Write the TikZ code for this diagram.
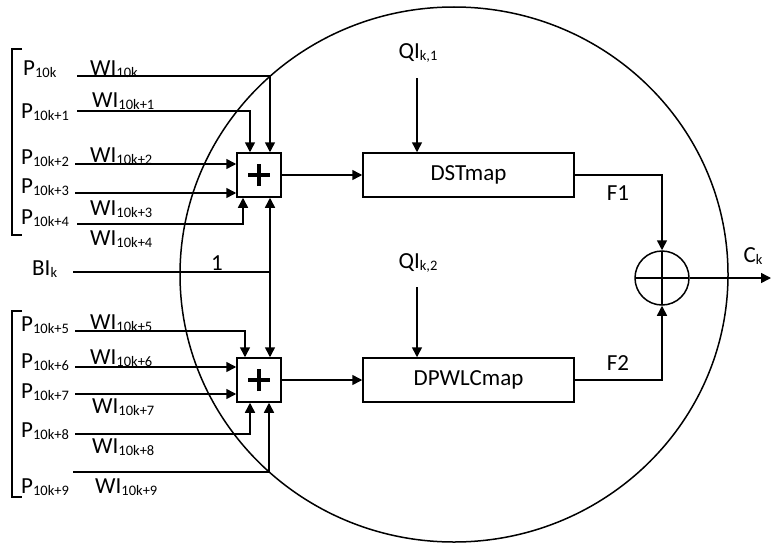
\documentclass[tikz,border=0pt]{standalone}
\usepackage{fontspec}
\setmainfont{Carlito}
\usetikzlibrary{arrows.meta,shapes.geometric}
\newcommand\lsub[1]{\raisebox{-1.5pt}{\fontsize{14.5}{14.5}\selectfont #1}}
\tikzset{
  conn/.style={line width=1.5pt},
  arr/.style={conn,-{Triangle[length=10pt,width=10pt]}},
  lbl/.style={inner sep=0pt,font=\fontsize{23}{25}\selectfont},
  sumbox/.style={draw,line width=1.5pt,minimum size=44pt,inner sep=0pt,
    path picture={
      \draw[line width=3.2pt] ([xshift=-11pt]path picture bounding box.center) -- ([xshift=11pt]path picture bounding box.center);
      \draw[line width=3.2pt] ([yshift=-11pt]path picture bounding box.center) -- ([yshift=11pt]path picture bounding box.center);}},
  mapbox/.style={draw,line width=1.5pt,minimum width=211pt,minimum height=44pt,inner sep=0pt,font=\fontsize{23}{25}\selectfont},
  oplusnode/.style={draw,circle,line width=1.5pt,minimum size=54pt,inner sep=0pt,
    path picture={
      \draw[line width=1.5pt] (path picture bounding box.west) -- (path picture bounding box.east);
      \draw[line width=1.5pt] (path picture bounding box.north) -- (path picture bounding box.south);}}
}
\begin{document}
\begin{tikzpicture}[x=1pt,y=-1pt]
\useasboundingbox (0,0) rectangle (778,551);
% big ellipse
\node[draw,ellipse,line width=1.5pt,minimum width=548pt,minimum height=535pt,inner sep=0pt] (big) at (454,274.5) {};
% brackets
\draw[conn] (22,49) -- (12,49) -- (12,235) -- (22,235);
\draw[conn] (22,311) -- (12,311) -- (12,497) -- (22,497);
% blocks
\node[sumbox] (sum1) at (259,175) {};
\node[sumbox] (sum2) at (259,380) {};
\node[mapbox] (dst) at (468.5,175) {DSTmap};
\node[mapbox] (dpwlc) at (468.5,380) {DPWLCmap};
\node[oplusnode] (op) at (662,278) {};
% input labels
\node[lbl,anchor=west] (tp0) at (23,69) {P\lsub{10k}};
\node[lbl,anchor=west] (tp1) at (21,112) {P\lsub{10k+1}};
\node[lbl,anchor=west] (tp2) at (21,158) {P\lsub{10k+2}};
\node[lbl,anchor=west] (tp3) at (21,187) {P\lsub{10k+3}};
\node[lbl,anchor=west] (tp4) at (21,218) {P\lsub{10k+4}};
\node[lbl,anchor=west] (tbi) at (32,269) {BI\lsub{k}};
\node[lbl,anchor=west] (tp5) at (21,325) {P\lsub{10k+5}};
\node[lbl,anchor=west] (tp6) at (21,362) {P\lsub{10k+6}};
\node[lbl,anchor=west] (tp7) at (21,392) {P\lsub{10k+7}};
\node[lbl,anchor=west] (tp8) at (21,431) {P\lsub{10k+8}};
\node[lbl,anchor=west] (tp9) at (21,487) {P\lsub{10k+9}};
% weight labels
\node[lbl,anchor=west] (w0) at (90,69) {WI\lsub{10k}};
\node[lbl,anchor=west] (w1) at (92,101) {WI\lsub{10k+1}};
\node[lbl,anchor=west] (w2) at (90,156) {WI\lsub{10k+2}};
\node[lbl,anchor=west] (w3) at (90,209) {WI\lsub{10k+3}};
\node[lbl,anchor=west] (w4) at (90,239) {WI\lsub{10k+4}};
\node[lbl,anchor=west] (w5) at (90,323) {WI\lsub{10k+5}};
\node[lbl,anchor=west] (w6) at (90,358) {WI\lsub{10k+6}};
\node[lbl,anchor=west] (w7) at (92,407) {WI\lsub{10k+7}};
\node[lbl,anchor=west] (w8) at (92,447) {WI\lsub{10k+8}};
\node[lbl,anchor=west] (w9) at (95,487) {WI\lsub{10k+9}};
\node[lbl] (one) at (217,263) {1};
\node[lbl] (qi1) at (418,53) {QI\lsub{k,1}};
\node[lbl] (qi2) at (418,263) {QI\lsub{k,2}};
\node[lbl] (f1) at (618,193) {F1};
\node[lbl] (f2) at (618,363) {F2};
\node[lbl] (ck) at (753,256) {C\lsub{k}};
% line start points
\coordinate (s0) at (77,76);
\coordinate (s1) at (77,111);
\coordinate (s2) at (75,164);
\coordinate (s3) at (75,193);
\coordinate (s4) at (77,224);
\coordinate (sb) at (73,272);
\coordinate (jb) at (270,272);
\coordinate (s5) at (75,331);
\coordinate (s6) at (75,367);
\coordinate (s7) at (75,394);
\coordinate (s8) at (75,434);
\coordinate (s9) at (73,472);
\coordinate (q1s) at (417,78);
\coordinate (q2s) at (417,287);
\coordinate (cke) at (771,278);
% upper adder inputs
\draw[arr] (s0) -| ([xshift=11pt]sum1.north);
\draw[arr] (s1) -| ([xshift=-9pt]sum1.north);
\draw[arr] (s2) -- (s2 -| sum1.west);
\draw[arr] (s3) -- (s3 -| sum1.west);
\draw[arr] (s4) -| ([xshift=-16pt]sum1.south);
% bias
\draw[conn] (sb) -- (jb);
\draw[arr] (jb) -- ([xshift=11pt]sum1.south);
\draw[arr] (jb) -- ([xshift=11pt]sum2.north);
% lower adder inputs
\draw[arr] (s5) -| ([xshift=-14pt]sum2.north);
\draw[arr] (s6) -- (s6 -| sum2.west);
\draw[arr] (s7) -- (s7 -| sum2.west);
\draw[arr] (s8) -| ([xshift=-9pt]sum2.south);
\draw[arr] (s9) -| ([xshift=10pt]sum2.south);
% adders to maps
\draw[arr] (sum1.east) -- (dst.west);
\draw[arr] (sum2.east) -- (dpwlc.west);
\draw[arr] (q1s) -- (q1s |- dst.north);
\draw[arr] (q2s) -- (q2s |- dpwlc.north);
% maps to output
\draw[arr] (dst.east) -| (op.north);
\draw[arr] (dpwlc.east) -| (op.south);
\draw[arr] (op.east) -- (cke);
\end{tikzpicture}
\end{document}
